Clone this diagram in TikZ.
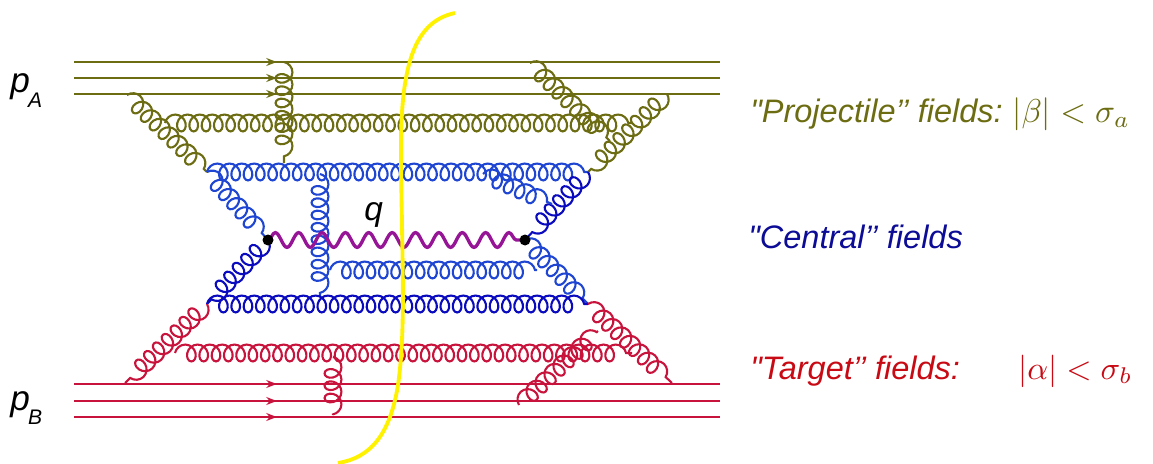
\documentclass[tikz,border=0pt]{standalone}
\usepackage{graphicx}
\usepackage{fontspec}
\setsansfont{Liberation Sans}[Ligatures=TeXOff]
\usetikzlibrary{decorations.pathmorphing,decorations.markings,arrows.meta}

\definecolor{projolive}{RGB}{108,108,18}
\definecolor{centblue}{RGB}{30,70,210}
\definecolor{centdark}{RGB}{10,10,190}
\definecolor{centtext}{RGB}{12,12,150}
\definecolor{targred}{RGB}{200,20,60}
\definecolor{targtext}{RGB}{200,10,20}
\definecolor{phviolet}{RGB}{150,20,150}

\begin{document}
\begin{tikzpicture}[x=0.2mm,y=-0.2mm]
\tikzset{gluon/.style={decorate,line width=1.2pt,
    decoration={coil,amplitude=4.8pt,segment length=7pt,aspect=0.85}},
  quark/.style={line width=1pt,postaction={decorate},
    decoration={markings,mark=at position 0.314 with {\arrow{Stealth[length=6pt,width=4.5pt]}}}},
  photon/.style={decorate,line width=1.9pt,draw=phviolet,
    decoration={snake,amplitude=4.2pt,segment length=13.3pt}},
  lbl/.style={font=\sffamily\itshape\fontsize{18.5}{22}\selectfont,inner sep=0pt,anchor=base west},
  mlbl/.style={inner sep=0pt,anchor=base west}}

\useasboundingbox (0,0) rectangle (1153,464);

\foreach \i/\yy in {1/62,2/78,3/94} {
    \coordinate (pa\i) at (74,\yy);
    \coordinate (qa\i) at (720,\yy);
    \draw[quark,projolive] (pa\i) -- (qa\i);
}
\foreach \i/\yy in {1/384,2/401,3/417} {
    \coordinate (pb\i) at (74,\yy);
    \coordinate (qb\i) at (720,\yy);
    \draw[quark,targred] (pb\i) -- (qb\i);
}

\coordinate (c1) at (207,172);
\coordinate (c2) at (588,172);
\coordinate (c3) at (207,304);
\coordinate (c4) at (588,304);
\coordinate (x1) at (268,240);
\coordinate (x2) at (525,240);

\coordinate (v1) at (284,62);
\coordinate (v2) at (284,163);
\coordinate (h1) at (165,123);
\coordinate (h2) at (632,123);
\coordinate (d1) at (127,95);
\coordinate (d2) at (530,63);
\coordinate (d3) at (610,141);
\coordinate (d4) at (667,94);

\draw[gluon,projolive] (h1) -- (h2);
\draw[gluon,projolive] (v1) -- (v2);
\draw[gluon,projolive] (d1) -- (c1);
\draw[gluon,projolive] (d2) -- (d3);
\draw[gluon,projolive] (d4) -- (c2);

\coordinate (b1) at (483,174);
\coordinate (b2) at (552,204);
\coordinate (v3) at (320,174);
\coordinate (v4) at (320,297);
\coordinate (h3) at (330,270);
\coordinate (h4) at (537,270);

\draw[gluon,centblue] (c1) -- (c2);
\draw[gluon,centblue] (c1) -- (x1);
\draw[gluon,centdark] (x1) -- (c3);
\draw[gluon,centdark] (c2) -- (x2);
\draw[gluon,centblue] (x2) -- (c4);
\draw[gluon,centblue] (b1) -- (b2);
\draw[gluon,centblue] (v3) -- (v4);
\draw[gluon,centblue] (h3) -- (h4);
\draw[gluon,centdark] (c3) -- (c4);

\coordinate (r1) at (125,383);
\coordinate (r2) at (672,383);
\coordinate (r3) at (519,405);
\coordinate (r4) at (598,331);
\coordinate (h5) at (175,353);
\coordinate (h6) at (632,353);
\coordinate (v5) at (333,357);
\coordinate (v6) at (333,415);

\draw[gluon,targred] (c3) -- (r1);
\draw[gluon,targred] (h5) -- (h6);
\draw[gluon,targred] (v5) -- (v6);
\draw[gluon,targred] (c4) -- (r2);
\draw[gluon,targred] (r3) -- (r4);

\draw[photon] (x1) -- (x2);
\fill (x1) circle (5.5);
\fill (x2) circle (5.5);

\draw[yellow,line width=2.2pt] (455,13) .. controls (412,22) and (400,70) .. (401,160)
    .. controls (402,260) and (406,330) .. (398,385) .. controls (390,435) and (370,458) .. (338,463);

\node[lbl] (q) at (364,220) {\fontsize{19}{22}\selectfont q};
\node[lbl] (pA) at (10,93) {\fontsize{20}{22}\selectfont p\kern-1pt\raisebox{-8pt}{\fontsize{12}{14}\selectfont A}};
\node[lbl] (pB) at (10,410) {\fontsize{20}{22}\selectfont p\kern-1pt\raisebox{-8pt}{\fontsize{12}{14}\selectfont B}};

\node[lbl,projolive] (tproj) at (750,123) {"Projectile’’ fields:};
\node[mlbl,projolive] (mproj) at (1012,123) {\scalebox{1.88}{$|\beta| < \sigma_a$}};
\node[lbl,centtext] (tcent) at (748,248) {"Central’’ fields};
\node[lbl,targtext] (ttarg) at (750,379) {"Target’’ fields:};
\node[mlbl,targtext] (mtarg) at (1018,379) {\scalebox{1.85}{$|\alpha| < \sigma_b$}};

\end{tikzpicture}
\end{document}
